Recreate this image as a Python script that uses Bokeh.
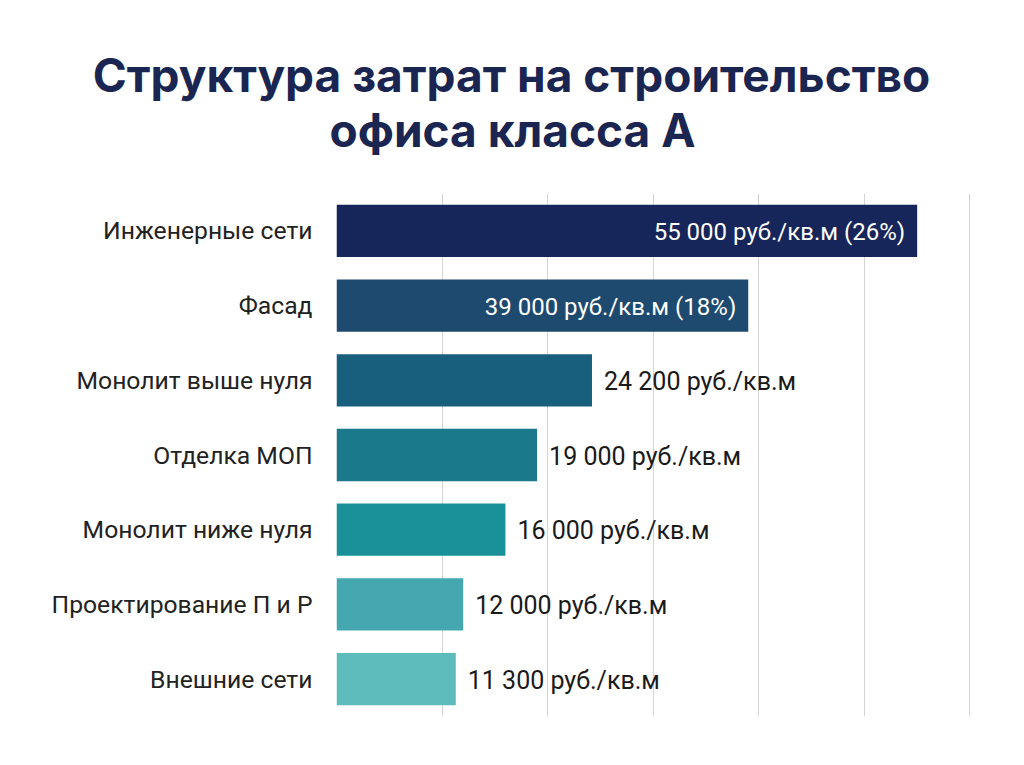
from bokeh.plotting import figure
from bokeh.layouts import column
from bokeh.models import ColumnDataSource, FactorRange, Range1d, FixedTicker
from bokeh.core.properties import value
from bokeh.embed import file_html
from bokeh.resources import INLINE

title_lines = ["Структура затрат на строительство", "офиса класса А"]

categories = ["Инженерные сети", "Фасад", "Монолит выше нуля", "Отделка МОП",
              "Монолит ниже нуля", "Проектирование П и Р", "Внешние сети"]
values = [55000, 39000, 24200, 19000, 16000, 12000, 11300]
shares = ["26%", "18%", "", "", "", "", ""]
inside = [True, True, False, False, False, False, False]
colors = ["#16255a", "#1e4a70", "#185f7e", "#1a7a8b", "#1a9199", "#45a7af", "#5dbbbb"]
grid_ticks = [0, 10000, 20000, 30000, 40000, 50000, 60000]
unit = "руб./кв.м"


def fmt(v):
    return f"{v:,}".replace(",", " ")


# ---- title panel ----
t = figure(width=1008, height=190, output_backend="svg", toolbar_location=None,
           x_range=Range1d(0, 1008), y_range=Range1d(0, 190),
           min_border_left=0, min_border_right=0, min_border_top=0, min_border_bottom=0)
t.axis.visible = False
t.grid.grid_line_color = None
t.outline_line_color = None
tsrc = ColumnDataSource(dict(x=[511, 512], y=[116, 61], t=title_lines))
t.text(x="x", y="y", text="t", source=tsrc, text_align="center", text_baseline="alphabetic",
       text_font=value("Inter"), text_font_style="bold", text_font_size="46px",
       text_color="#1a2551")

# ---- chart ----
p = figure(width=1008, height=559, output_backend="svg", toolbar_location=None,
           y_range=FactorRange(factors=categories[::-1]),
           x_range=Range1d(0, 61000),
           min_border_left=336, min_border_right=28, min_border_top=3, min_border_bottom=33)

src = ColumnDataSource(dict(cat=categories, val=values, col=colors))
p.hbar(y="cat", right="val", left=0, height=0.7, fill_color="col", line_color=None, source=src)

in_cats = [c for c, i in zip(categories, inside) if i]
in_vals = [v for v, i in zip(values, inside) if i]
in_text = [fmt(v) + " " + unit + " (" + s + ")" for v, s, i in zip(values, shares, inside) if i]
in_src = ColumnDataSource(dict(y=in_cats, x=in_vals, t=in_text))
p.text(x="x", y="y", text="t", source=in_src, x_offset=-12, y_offset=1,
       text_align="right", text_baseline="middle", text_color="white",
       text_font=value("Roboto"), text_font_size="24px")

out_cats = [c for c, i in zip(categories, inside) if not i]
out_vals = [v for v, i in zip(values, inside) if not i]
out_text = [fmt(v) + " " + unit for v, i in zip(values, inside) if not i]
out_src = ColumnDataSource(dict(y=out_cats, x=out_vals, t=out_text))
p.text(x="x", y="y", text="t", source=out_src, x_offset=12, y_offset=1,
       text_align="left", text_baseline="middle", text_color="#1a1a1a",
       text_font=value("Roboto"), text_font_size="25px")

p.xaxis.visible = False
p.xgrid.ticker = FixedTicker(ticks=grid_ticks)
p.xgrid.grid_line_color = "#d4d4d4"
p.ygrid.grid_line_color = None
p.yaxis.axis_line_color = None
p.yaxis.major_tick_line_color = None
p.yaxis.minor_tick_line_color = None
p.yaxis.major_label_standoff = 18
p.yaxis.major_label_text_font = "Roboto"
p.yaxis.major_label_text_font_size = "24.7px"
p.yaxis.major_label_text_color = "#222222"
p.outline_line_color = None

for fig in (t, p):
    if "frame_align" in fig.properties():
        fig.frame_align = False

layout = column(t, p, spacing=0)
open("out.html", "w").write(file_html(layout, INLINE))
